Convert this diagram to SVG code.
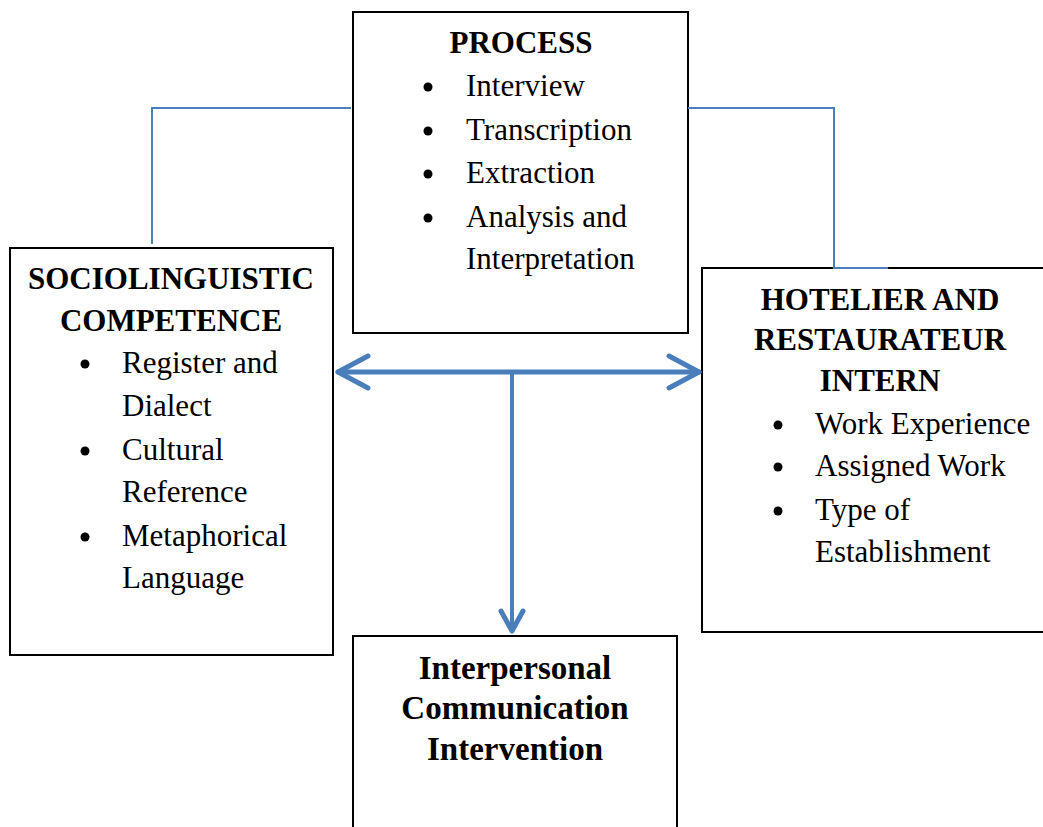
<svg xmlns="http://www.w3.org/2000/svg" width="1043" height="827" viewBox="0 0 1043 827">
<style>
.box{fill:#fff;stroke:#000;stroke-width:2}
.t{font-family:"Liberation Serif","Times New Roman",serif;font-size:31px;fill:#000}
.h{font-family:"Liberation Serif","Times New Roman",serif;font-size:31px;font-weight:bold;text-anchor:middle;fill:#000}
.ic{font-family:"Liberation Serif","Times New Roman",serif;font-size:33px;font-weight:bold;text-anchor:middle;fill:#000}
.thin{fill:none;stroke:#4a7ebb;stroke-width:2}
.thick{fill:none;stroke:#4a7ebb;stroke-width:5;stroke-linecap:round;stroke-linejoin:round}
</style>
<rect width="1043" height="827" fill="#fff"/>
<g id="process">
<rect class="box" x="353" y="12" width="335" height="321"/>
<text class="h" x="521" y="53">PROCESS</text>
<circle cx="428" cy="87" r="4.5"/><text class="t" x="466" y="96">Interview</text>
<circle cx="428" cy="131" r="4.5"/><text class="t" x="466" y="140">Transcription</text>
<circle cx="428" cy="174" r="4.5"/><text class="t" x="466" y="183">Extraction</text>
<circle cx="428" cy="218" r="4.5"/><text class="t" x="466" y="227">Analysis and</text>
<text class="t" x="466" y="269">Interpretation</text>
</g>
<g id="socio">
<rect class="box" x="10" y="248" width="323" height="407"/>
<text class="h" x="171" y="289">SOCIOLINGUISTIC</text>
<text class="h" x="171" y="331">COMPETENCE</text>
<circle cx="85" cy="364" r="4.5"/><text class="t" x="122" y="373">Register and</text>
<text class="t" x="122" y="416">Dialect</text>
<circle cx="85" cy="451" r="4.5"/><text class="t" x="122" y="460">Cultural</text>
<text class="t" x="122" y="502">Reference</text>
<circle cx="85" cy="537" r="4.5"/><text class="t" x="122" y="546">Metaphorical</text>
<text class="t" x="122" y="588">Language</text>
</g>
<g id="hotelier">
<rect class="box" x="702" y="268" width="345" height="364"/>
<text class="h" x="880" y="310">HOTELIER AND</text>
<text class="h" x="880" y="350">RESTAURATEUR</text>
<text class="h" x="880" y="391">INTERN</text>
<circle cx="778" cy="425" r="4.5"/><text class="t" x="815" y="434">Work Experience</text>
<circle cx="778" cy="467" r="4.5"/><text class="t" x="815" y="476">Assigned Work</text>
<circle cx="778" cy="511" r="4.5"/><text class="t" x="815" y="520">Type of</text>
<text class="t" x="815" y="562">Establishment</text>
</g>
<g id="intervention">
<rect class="box" x="353" y="636" width="324" height="200"/>
<text class="ic" x="515" y="679">Interpersonal</text>
<text class="ic" x="515" y="719">Communication</text>
<text class="ic" x="515" y="760">Intervention</text>
</g>
<g id="connectors">
<polyline class="thin" points="351,108 152,108 152,244"/>
<polyline class="thin" points="688,108 834,108 834,268 888,268"/>
<line class="thick" x1="338" y1="372" x2="699" y2="372"/>
<polyline class="thick" points="368,356 338,372 368,388"/>
<polyline class="thick" points="669,356 699,372 669,388"/>
<line x1="512" y1="372" x2="512" y2="630" stroke="#4a7ebb" stroke-width="4"/>
<polyline class="thick" points="501,611 512,631 523,611"/>
</g>
</svg>
